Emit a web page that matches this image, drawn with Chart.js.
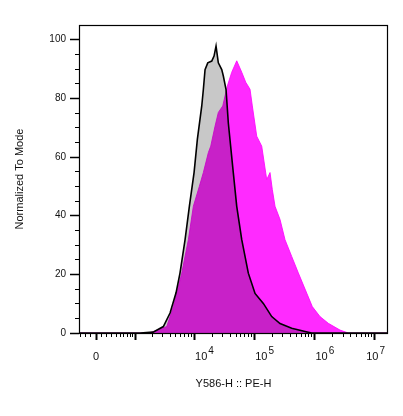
<!DOCTYPE html>
<html>
<head>
<meta charset="utf-8">
<script src="https://cdn.jsdelivr.net/npm/chart.js@4/dist/chart.umd.min.js"></script>
<style>
  html, body { margin: 0; padding: 0; background: #fff; }
  #wrap { width: 403px; height: 416px; position: relative; }
</style>
</head>
<body>
<div id="wrap"><canvas id="histo"></canvas></div>
<script>
// axis ranges (channel values / % of mode)
const X_MIN = -330;
const X_MAX = 16700000;
const Y_MIN = 0;
const Y_MAX = 105;

const X_MAJOR_TICKS = [0, 1000, 10000, 100000, 1000000, 10000000];
const X_TICK_LABELS = ['0', '', '10^4', '10^5', '10^6', '10^7'];
const X_MINOR_TICKS = [
  -300, -200, -100, 100, 200, 300, 400, 500, 600, 700, 800, 900,
  2000, 3000, 4000, 5000, 6000, 7000, 8000, 9000,
  20000, 30000, 40000, 50000, 60000, 70000, 80000, 90000,
  200000, 300000, 400000, 500000, 600000, 700000, 800000, 900000,
  2000000, 3000000, 4000000, 5000000, 6000000, 7000000, 8000000, 9000000
];
const Y_MAJOR_TICKS = [0, 20, 40, 60, 80, 100];
const Y_MINOR_TICKS = [5, 10, 15, 25, 30, 35, 45, 50, 55, 65, 70, 75, 85, 90, 95];

// control sample (grey, black outline)
const controlX = [-330, 1224, 2057, 3072, 3978, 5011, 5841, 7086, 8353, 9999, 11344, 13424, 14269,
  15225, 16888, 19678, 21482, 23194, 25316, 28849, 30662, 34006, 37115, 44933, 51198, 62007,
  79787, 103102, 141606, 195253, 268235, 419426, 698022, 901730, 16700000];
const controlY = [0, 0, 0.3, 2.2, 6.8, 13.7, 20.5, 31.8, 43.2, 54.7, 66, 77.4, 83,
  89.8, 92.1, 92.7, 94.4, 97.8, 92.1, 89.8, 87.6, 83, 71.6, 54.6, 43.2, 31.8,
  20.4, 13.5, 10.1, 5.6, 3.2, 1.6, 0.5, 0, 0];

// stained sample (magenta)
const stainedX = [-330, 1498, 1828, 3503, 4517, 6236, 8040, 9733, 12244, 14269, 17279, 18939, 22321,
  25316, 29979, 35749, 42296, 51198, 62007, 72228, 85133, 92975, 110002, 133199, 161247,
  182984, 199798, 221488, 268235, 324755, 419426, 540002, 744651, 922689, 1238730,
  1701252, 2661857, 3655902, 16700000];
const stainedY = [0, 0, 0.1, 2.2, 9, 20.4, 31.8, 43.2, 50, 54.7, 61.5, 63.7, 70.5,
  75.2, 77.4, 84.2, 88.9, 92.8, 88.9, 85.5, 83.1, 77.4, 67.1, 63.7, 52.3,
  54.7, 48.9, 43.2, 38.7, 31.8, 26.1, 20.5, 13.6, 9, 5.6,
  3.3, 1, 0, 0];

const FONT = 'Liberation Sans, Arial, sans-serif';
const BIEX_W = 471;

function biex(v) {
  return Math.asinh(v / BIEX_W) / Math.LN10;
}

class BiexScale extends Chart.Scale {
  static id = 'biex';
  static defaults = {};
  determineDataLimits() {
    this.min = this.options.min;
    this.max = this.options.max;
  }
  buildTicks() {
    return [];
  }
  configure() {
    super.configure();
    this._t0 = biex(this.min);
    this._t1 = biex(this.max);
  }
  getLabelForValue(v) {
    return String(v);
  }
  getPixelForValue(v) {
    return this.getPixelForDecimal((biex(v) - this._t0) / (this._t1 - this._t0));
  }
  getValueForPixel(p) {
    const t = this._t0 + this.getDecimalForPixel(p) * (this._t1 - this._t0);
    return BIEX_W * Math.sinh(t * Math.LN10);
  }
}
Chart.register(BiexScale);

const toPoints = (xs, ys) => xs.map((x, i) => ({ x, y: ys[i] }));
const setTicks = vals => scale => { scale.ticks = vals.map(v => ({ value: v })); };

const multiplyPlugin = {
  id: 'multiply',
  beforeDatasetsDraw(chart) {
    chart.ctx.save();
    chart.ctx.globalCompositeOperation = 'multiply';
  },
  afterDatasetsDraw(chart) {
    chart.ctx.restore();
  }
};

const framePlugin = {
  id: 'frame',
  afterDraw(chart) {
    const { ctx, chartArea: a } = chart;
    ctx.save();
    ctx.strokeStyle = '#000';
    ctx.lineWidth = 1.2;
    ctx.strokeRect(a.left + 0.5, a.top + 0.5, a.right - a.left - 1, a.bottom - a.top);
    ctx.restore();
  }
};

// decade labels with raised exponent
const xLabelPlugin = {
  id: 'xLabels',
  afterDraw(chart) {
    const { ctx, chartArea } = chart;
    const scale = chart.scales.x;
    ctx.save();
    ctx.fillStyle = '#111';
    ctx.textBaseline = 'alphabetic';
    X_MAJOR_TICKS.forEach((v, i) => {
      const label = X_TICK_LABELS[i];
      if (!label) return;
      const px = scale.getPixelForValue(v);
      const [base, exp] = label.split('^');
      ctx.font = '11px ' + FONT;
      if (!exp) {
        ctx.textAlign = 'center';
        ctx.fillText(base, px, 360);
        return;
      }
      const bw = ctx.measureText(base).width;
      ctx.font = '10px ' + FONT;
      const ew = ctx.measureText(exp).width;
      const x0 = Math.min(px + 1, chartArea.right - 3 - bw - ew - 1);
      ctx.textAlign = 'left';
      ctx.font = '11px ' + FONT;
      ctx.fillText(base, x0, 360);
      ctx.font = '10px ' + FONT;
      ctx.fillText(exp, x0 + bw + 1, 354);
    });
    ctx.restore();
  }
};

new Chart(document.getElementById('histo'), {
  type: 'line',
  data: {
    datasets: [
      {
        label: 'Control',
        data: toPoints(controlX, controlY),
        borderColor: '#000',
        borderWidth: 1.6,
        backgroundColor: '#c8c8c8',
        fill: 'origin',
        pointRadius: 0,
        tension: 0
      },
      {
        label: 'Stained',
        data: toPoints(stainedX, stainedY),
        borderColor: '#ff2aff',
        borderWidth: 1,
        backgroundColor: '#ff2aff',
        fill: 'origin',
        pointRadius: 0,
        tension: 0
      }
    ]
  },
  options: {
    responsive: true,
    maintainAspectRatio: false,
    animation: false,
    events: [],
    layout: { padding: { left: 0, top: 25, right: 15, bottom: 0 } },
    plugins: {
      legend: { display: false },
      tooltip: { enabled: false }
    },
    scales: {
      x: {
        type: 'biex',
        position: 'bottom',
        weight: 1,
        min: X_MIN,
        max: X_MAX,
        afterBuildTicks: setTicks(X_MAJOR_TICKS),
        afterFit: s => { s.height = 83; },
        ticks: { display: false, autoSkip: false },
        border: { display: false },
        grid: { drawOnChartArea: false, tickLength: 7, tickColor: '#000', tickWidth: 2 },
        title: {
          display: true,
          text: 'Y586-H :: PE-H',
          color: '#111',
          font: { family: FONT, size: 11 },
          padding: { top: 0, bottom: 25 }
        }
      },
      xMinor: {
        type: 'biex',
        position: 'bottom',
        weight: 0,
        min: X_MIN,
        max: X_MAX,
        afterBuildTicks: setTicks(X_MINOR_TICKS),
        afterFit: s => { s.height = 0; },
        ticks: { display: false, autoSkip: false },
        border: { display: false },
        grid: { drawOnChartArea: false, tickLength: 4, tickColor: '#000', tickWidth: 1 }
      },
      y: {
        type: 'linear',
        position: 'left',
        weight: 1,
        min: Y_MIN,
        max: Y_MAX,
        afterBuildTicks: setTicks(Y_MAJOR_TICKS),
        afterFit: s => { s.width = 79; },
        ticks: { autoSkip: false, padding: 4, color: '#111', font: { family: FONT, size: 10 } },
        border: { display: false },
        grid: { drawOnChartArea: false, tickLength: 9, tickColor: '#000', tickWidth: 1.5 },
        title: {
          display: true,
          text: 'Normalized To Mode',
          color: '#111',
          font: { family: FONT, size: 11 },
          padding: { top: 13, bottom: 0 }
        }
      },
      yMinor: {
        type: 'linear',
        position: 'left',
        weight: 0,
        min: Y_MIN,
        max: Y_MAX,
        afterBuildTicks: setTicks(Y_MINOR_TICKS),
        afterFit: s => { s.width = 0; },
        ticks: { display: false, autoSkip: false },
        border: { display: false },
        grid: { drawOnChartArea: false, tickLength: 4, tickColor: '#000', tickWidth: 1 }
      }
    }
  },
  plugins: [multiplyPlugin, framePlugin, xLabelPlugin]
});
</script>
</body>
</html>
